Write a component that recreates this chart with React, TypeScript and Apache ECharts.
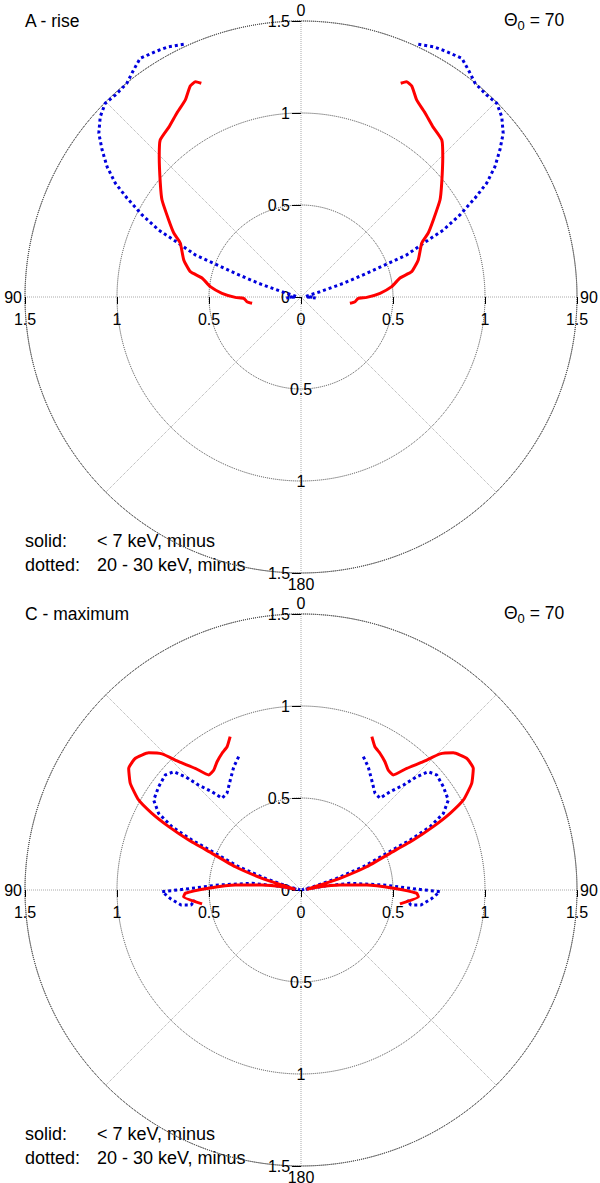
import React, { useEffect, useRef } from "react";
import * as echarts from "echarts";

// ---------- data (right half; left half is the mirror image) ----------
// angle theta in degrees measured from the top (0) clockwise, radius r
const riseSolidTheta = [25.0, 26.1, 27.7, 30.4, 34.0, 37.8, 41.9, 45.3, 51.0, 55.1, 59.8, 63.3, 65.9, 72.5, 77.1, 79.1, 83.5, 87.3, 90.3, 91.3, 95.0, 97.3];
const riseSolidR = [1.282, 1.303, 1.295, 1.242, 1.206, 1.17, 1.146, 1.084, 0.984, 0.921, 0.832, 0.774, 0.719, 0.668, 0.617, 0.548, 0.496, 0.43, 0.357, 0.311, 0.295, 0.268];

const riseDottedTheta = [24.9, 27.9, 30.7, 34.0, 36.4, 39.2, 42.6, 45.3, 48.1, 51.0, 53.5, 56.1, 58.5, 60.4, 62.7, 64.8, 66.3, 68.3, 68.9, 70.2, 72.1, 74.4, 85.7, 94.0, 80.0];
const riseDottedR = [1.514, 1.539, 1.551, 1.564, 1.533, 1.498, 1.491, 1.497, 1.466, 1.414, 1.345, 1.27, 1.183, 1.087, 0.972, 0.855, 0.726, 0.618, 0.509, 0.38, 0.242, 0.107, 0.022, 0.08, 0.03];

const maxSolidTheta = [24.8, 27.3, 30.0, 33.2, 36.0, 38.7, 41.0, 43.6, 45.6, 48.0, 51.5, 54.8, 58.0, 61.0, 62.8, 64.4, 66.0, 67.6, 70.5, 73.3, 75.3, 83.0, 80.1, 82.7, 85.6, 88.9, 91.6, 93.3, 98.0];
const maxSolidR = [0.918, 0.876, 0.858, 0.833, 0.806, 0.801, 0.876, 0.963, 1.057, 1.114, 1.15, 1.146, 1.094, 1.009, 0.911, 0.797, 0.668, 0.523, 0.379, 0.221, 0.107, 0.031, 0.105, 0.214, 0.358, 0.502, 0.629, 0.639, 0.543];

const maxDottedTheta = [25.05, 28.6, 32.7, 37.4, 40.7, 42.2, 44.3, 45.6, 47.1, 49.7, 54.0, 58.6, 61.7, 63.9, 65.4, 66.8, 69.5, 71.9, 75.0, 80.0, 80.5, 82.2, 86.5, 89.1, 90.7, 94.0, 97.1, 97.8, 95.4];
const maxDottedR = [0.8, 0.763, 0.711, 0.662, 0.658, 0.721, 0.797, 0.88, 0.944, 0.967, 0.956, 0.938, 0.879, 0.781, 0.652, 0.507, 0.361, 0.204, 0.069, 0.005, 0.132, 0.269, 0.448, 0.592, 0.755, 0.708, 0.657, 0.603, 0.579];

const panelTitles = ["A - rise", "C - maximum"];
const thetaZeroValue = "70";
const legendKeys = ["solid:", "dotted:"];
const legendTexts = ["< 7 keV, minus", "20 - 30 keV, minus"];

const angleTickValues = [0, 90, 180, 270];
const angleTickLabels = ["0", "90", "180", "90"];
const radiusTicks = [0, 0.5, 1, 1.5];
const radiusMax = 1.5;

// ---------- layout ----------
const FONT = '"Liberation Sans", Arial, Helvetica, sans-serif';
const CENTERS = [
  [301, 297],
  [301, 890],
];
const RADIUS = 276;
const RED = "#ff0000";
const BLUE = "#0000dd";

function mirror(theta: number[], r: number[], left: boolean) {
  return theta.map((t, i) => [r[i], left ? 360 - t : t]);
}

function buildOption() {
  const polar: any[] = [];
  const angleAxis: any[] = [];
  const radiusAxis: any[] = [];
  const series: any[] = [];
  const graphic: any[] = [];

  const panels = [
    { sT: riseSolidTheta, sR: riseSolidR, dT: riseDottedTheta, dR: riseDottedR },
    { sT: maxSolidTheta, sR: maxSolidR, dT: maxDottedTheta, dR: maxDottedR },
  ];

  const labelBase = { color: "#000", fontSize: 16, fontFamily: FONT };

  panels.forEach((pd, p) => {
    const c = CENTERS[p];
    // per panel, polar systems sharing a centre: main (up), left, right, down, and
    // a same-scale, larger one (no clipping at r = 1.5) that carries the curves
    const starts = [90, 180, 0, 270, 90];
    starts.forEach((sa, k) => {
      const idx = p * 5 + k;
      const isData = k === 4;
      polar.push({ center: [c[0], c[1]], radius: isData ? RADIUS * 2 : RADIUS });
      angleAxis.push({
        polarIndex: idx,
        type: "value",
        min: 0,
        max: 360,
        interval: 45,
        startAngle: sa,
        clockwise: true,
        show: k === 0,
        axisLine: { show: true, lineStyle: { color: "#444", type: "dotted", width: 1 } },
        axisTick: { show: false },
        axisLabel: {
          show: true,
          margin: 3,
          ...labelBase,
          formatter: (v: number) => {
            const j = angleTickValues.indexOf(Math.round(v));
            return j >= 0 ? angleTickLabels[j] : "";
          },
        },
        splitLine: { show: true, lineStyle: { color: "#aaa", type: "dotted", width: 1 } },
      });
      const ra: any = {
        polarIndex: idx,
        type: "value",
        min: 0,
        max: isData ? radiusMax * 2 : radiusMax,
        interval: 0.5,
        show: !isData,
        axisLine: { show: false },
        splitLine: { show: false },
        axisTick: { show: true, length: 8, lineStyle: { color: "#000", width: 1 } },
        axisLabel: { ...labelBase, margin: 11 },
      };
      if (k === 0) {
        ra.splitLine = { show: true, lineStyle: { color: "#444", type: "dotted", width: 1 } };
        ra.axisTick = { show: true, length: 9, lineStyle: { color: "#000", width: 1 } };
      } else if (k === 1) {
        ra.axisTick = { show: true, length: 7, lineStyle: { color: "#000", width: 1 } };
        ra.axisLabel = { ...labelBase, margin: 14 };
      } else if (k === 2) {
        ra.axisTick = { show: true, length: -7, customValues: [0.5, 1, 1.5], lineStyle: { color: "#000", width: 1 } };
        ra.axisLabel = {
          ...labelBase,
          margin: -14,
          align: "center",
          verticalAlign: "top",
          customValues: [0.5, 1, 1.5],
        };
      } else if (k === 3) {
        ra.axisTick = { show: true, length: -9, customValues: [1.5], lineStyle: { color: "#000", width: 1 } };
        ra.axisLabel = {
          ...labelBase,
          margin: 0,
          align: "center",
          verticalAlign: "middle",
          customValues: [0.5, 1, 1.5],
          formatter: (v: number) => (v === radiusTicks[3] ? "{l|" + v + "}" : "{c|" + v + "}"),
          rich: {
            c: { ...labelBase },
            l: { ...labelBase, padding: [0, 44, 0, 0] },
          },
        };
      }
      radiusAxis.push(ra);
    });

    const dataPolar = p * 5 + 4;
    const solidStyle = { color: RED, width: 3, type: "solid" };
    const dotStyle = { color: BLUE, width: 3, type: [3, 3], cap: "butt" };
    [false, true].forEach((left) => {
      series.push({
        type: "line",
        coordinateSystem: "polar",
        polarIndex: dataPolar,
        data: mirror(pd.dT, pd.dR, left),
        symbol: "none",
        clip: false,
        silent: true,
        z: 3,
        lineStyle: dotStyle,
      });
      series.push({
        type: "line",
        coordinateSystem: "polar",
        polarIndex: dataPolar,
        data: mirror(pd.sT, pd.sR, left),
        symbol: "none",
        clip: false,
        silent: true,
        z: 4,
        smooth: 0.15,
        lineStyle: solidStyle,
      });
    });

    const dy = p === 0 ? 0 : 593;
    const tstyle = { fill: "#000", fontSize: 17.5, fontFamily: FONT, verticalAlign: "middle", align: "left" };
    const lstyle = { ...tstyle, fontSize: 18 };
    graphic.push({ type: "text", x: 25, y: 21 + dy, style: { ...tstyle, text: panelTitles[p] } });
    graphic.push({
      type: "text",
      x: 504,
      y: 20 + dy,
      style: {
        ...tstyle,
        text: "Θ{s|0} = " + thetaZeroValue,
        lineHeight: 24,
        rich: {
          s: { fontSize: 13, fontFamily: FONT, fill: "#000", verticalAlign: "bottom", lineHeight: 24 },
        },
      },
    });
    legendKeys.forEach((k, i) => {
      graphic.push({ type: "text", x: 25, y: 541 + i * 24 + dy, style: { ...lstyle, text: k } });
      graphic.push({ type: "text", x: 97, y: 541 + i * 24 + dy, style: { ...lstyle, text: legendTexts[i] } });
    });
  });

  return {
    animation: false,
    backgroundColor: "#fff",
    polar,
    angleAxis,
    radiusAxis,
    series,
    graphic,
  };
}

export default function App() {
  const ref = useRef<HTMLDivElement>(null);
  useEffect(() => {
    const chart = echarts.init(ref.current!, null, { renderer: "svg" });
    chart.setOption(buildOption() as any);
    return () => chart.dispose();
  }, []);
  return (
    <div
      ref={ref}
      style={{ position: "absolute", left: 0, top: 0, width: 600, height: 1183, background: "#fff" }}
    />
  );
}
